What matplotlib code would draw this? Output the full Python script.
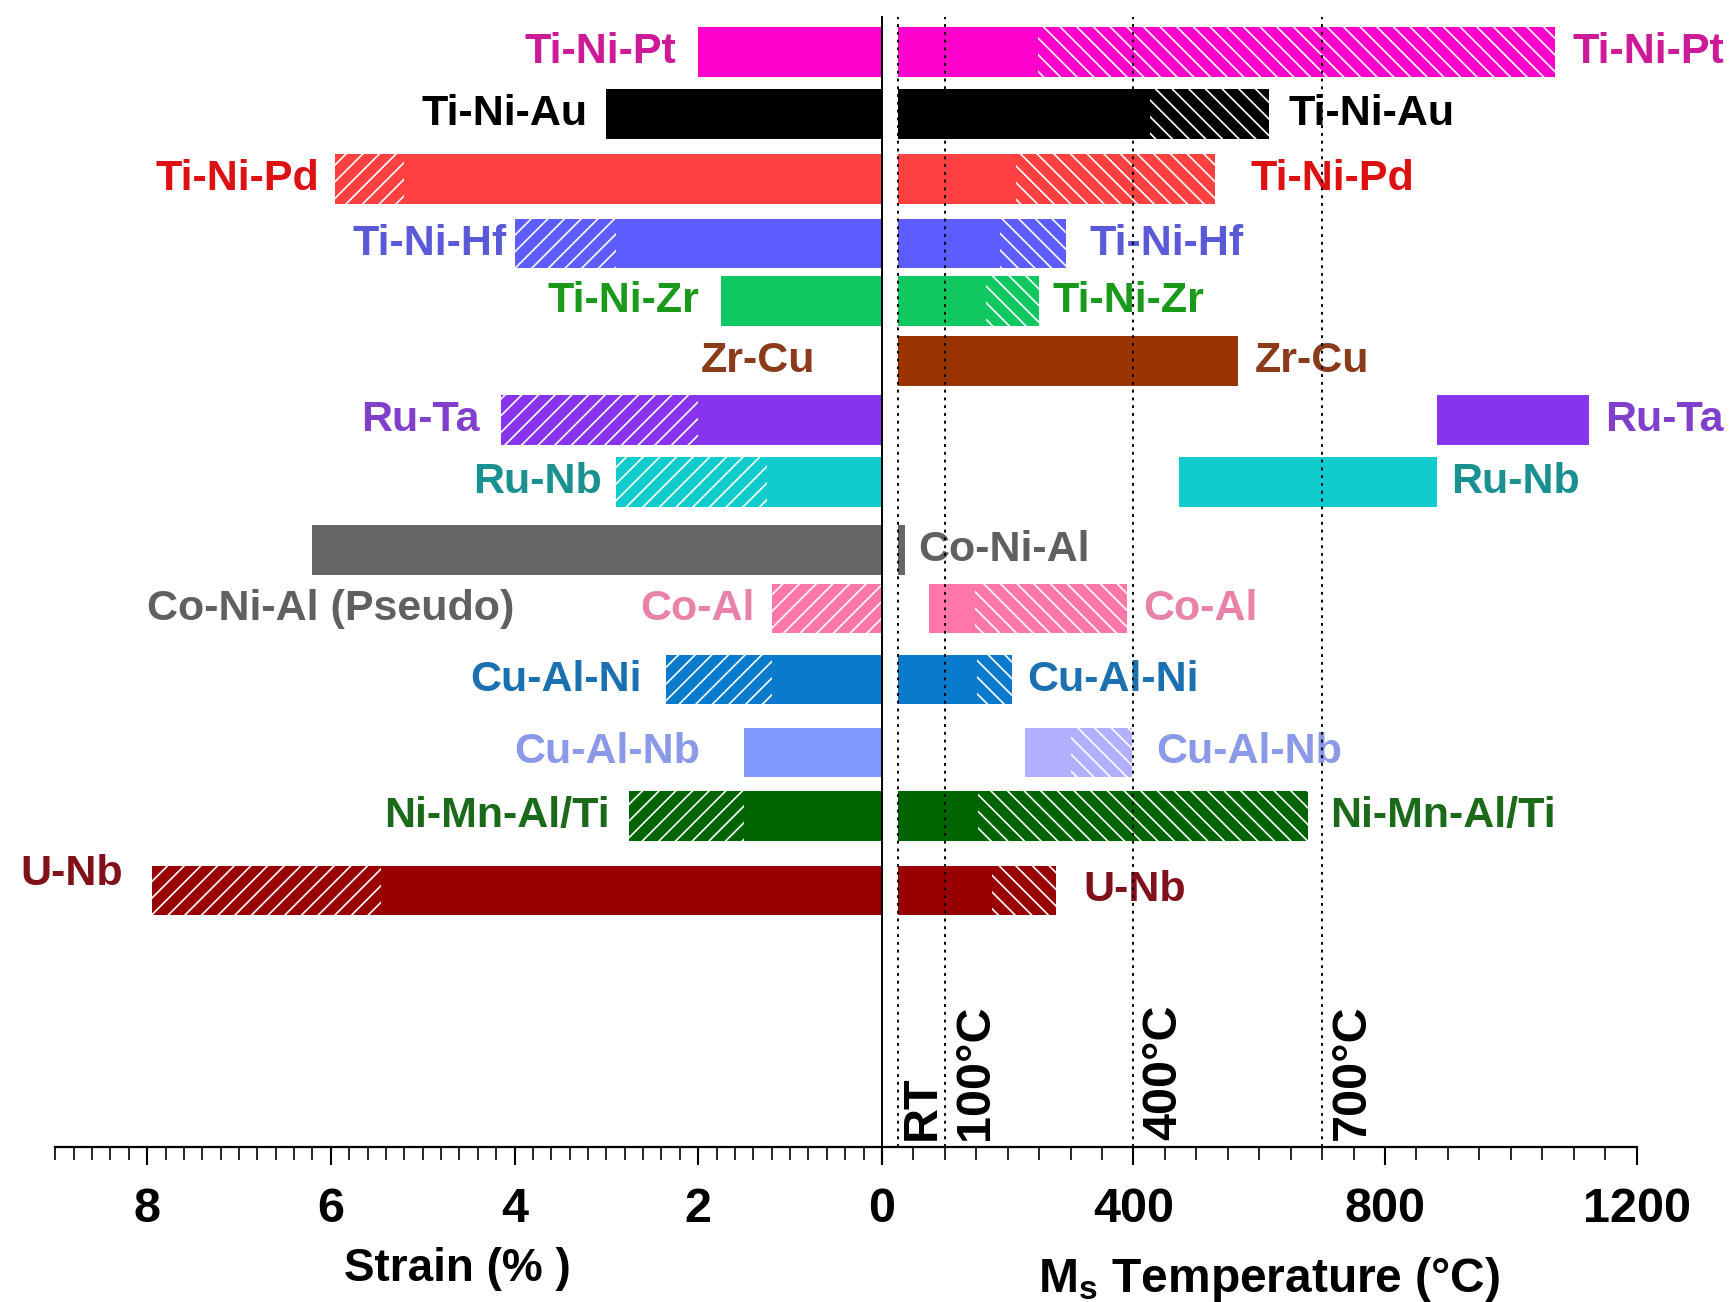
import matplotlib
matplotlib.use('Agg')
import matplotlib.pyplot as plt
from matplotlib.ticker import MultipleLocator

# --- alloy families, listed top to bottom
alloys = ['Ti-Ni-Pt', 'Ti-Ni-Au', 'Ti-Ni-Pd', 'Ti-Ni-Hf', 'Ti-Ni-Zr', 'Zr-Cu', 'Ru-Ta',
          'Ru-Nb', 'Co-Ni-Al', 'Co-Al', 'Cu-Al-Ni', 'Cu-Al-Nb', 'Ni-Mn-Al/Ti', 'U-Nb']

# --- recoverable strain (%): solid bar up to strain_lo, hatched on to strain_hi
strain_lo = [2.0, 3.0, 5.2, 2.9, 1.75, 0.0, 2.0, 1.25, 6.2, 0.0, 1.2, 1.5, 1.5, 5.45]
strain_hi = [2.0, 3.0, 5.95, 4.0, 1.75, 0.0, 4.15, 2.9, 6.2, 1.2, 2.35, 1.5, 2.75, 7.95]

# --- Ms temperature (C): bar from ms_start, solid up to ms_lo, hatched on to ms_hi
ms_start = [25, 25, 25, 25, 25, 25, 883, 473, 25, 75, 25, 227, 25, 25]
ms_lo = [248, 427, 214, 188, 166, 566, 1124, 883, 37, 148, 152, 301, 153, 175]
ms_hi = [1071, 615, 529, 292, 250, 566, 1124, 883, 37, 389, 207, 398, 677, 277]

# --- reference temperatures
ref_temps = [25, 100, 400, 700]
ref_labels = ['RT', '100°C', '400°C', '700°C']

# --- colours
bar_color = ['#ff00cc', '#000000', '#ff4040', '#5c5cff', '#10c860', '#993300', '#8833ee',
             '#10cccc', '#666666', '#ff77a8', '#0a7acc', '#7f99ff', '#006400', '#990000']
right_color = list(bar_color)
right_color[11] = '#b0b0ff'
text_color = ['#cc1a99', '#000000', '#dd1111', '#5a5ad8', '#1a9a1a', '#8b3a1a', '#8040cc',
              '#1a9090', '#606060', '#e882a8', '#1a70b0', '#8a9ae8', '#1a6a1a', '#80101a']

# --- layout: row centres and label gaps (points)
row_y = [0, 0.96, 1.97, 2.97, 3.86, 4.79, 5.71, 6.67, 7.72, 8.63, 9.73, 10.86, 11.85, 13.0]
left_gap = [16, 13.5, 12, 5.5, 16, 48, 15, 10, 12, 12, 17.5, 32, 14, 12]
right_gap = [12, 14, 26, 17, 9.5, 12, 12, 10, 9.5, 12, 11, 17, 16, 20]
bar_h = 0.77

plt.rcParams['font.family'] = 'Liberation Sans'
plt.rcParams['font.weight'] = 'bold'
plt.rcParams['mathtext.fontset'] = 'custom'
plt.rcParams['mathtext.rm'] = 'Liberation Sans:bold'
plt.rcParams['hatch.linewidth'] = 1.2

fs_bar = 31
fs_tick = 35
fs_axis = 33
fs_ref = 35

fig = plt.figure(figsize=(17.35, 13.02), dpi=100)
axL = fig.add_axes([50 / 1568, 0.1189, 747 / 1568, 0.8684])
axR = fig.add_axes([797 / 1568, 0.1189, 682 / 1568, 0.8684], sharey=axL)

for i, name in enumerate(alloys):
    y = row_y[i]
    # strain side
    if strain_hi[i] > 0:
        axL.barh(y, strain_hi[i], height=bar_h, color=bar_color[i], lw=0)
        if strain_hi[i] > strain_lo[i]:
            axL.barh(y, strain_hi[i] - strain_lo[i], left=strain_lo[i], height=bar_h,
                     facecolor='none', edgecolor='white', hatch='//', lw=0)
    # temperature side
    axR.barh(y, ms_hi[i] - ms_start[i], left=ms_start[i], height=bar_h, color=right_color[i], lw=0)
    if ms_hi[i] > ms_lo[i]:
        axR.barh(y, ms_hi[i] - ms_lo[i], left=ms_lo[i], height=bar_h,
                 facecolor='none', edgecolor='white', hatch='\\\\', lw=0)

    # labels
    if name == 'Co-Ni-Al':
        axL.text(8.0, row_y[9], 'Co-Ni-Al (Pseudo)', ha='left', va='center',
                 color=text_color[i], fontsize=fs_bar)
    elif name == 'U-Nb':
        axL.text(9.38, 12.74, name, ha='left', va='center', color=text_color[i], fontsize=fs_bar)
    else:
        axL.annotate(name, (strain_hi[i], y), xytext=(-left_gap[i], 0), textcoords='offset points',
                     ha='right', va='center', color=text_color[i], fontsize=fs_bar,
                     annotation_clip=False)
    axR.annotate(name, (ms_hi[i], y), xytext=(right_gap[i], 0), textcoords='offset points',
                 ha='left', va='center', color=text_color[i], fontsize=fs_bar,
                 annotation_clip=False)

axL.set_ylim(16.98, -0.55)

# reference temperature lines
for t, lab in zip(ref_temps, ref_labels):
    axR.axvline(t, color='k', lw=1.4, ls=(0, (1.5, 2.5)), zorder=5)
    dx = 18 if lab == 'RT' else 22
    axR.annotate(lab, (t, 16.98), xytext=(dx, 5), textcoords='offset points',
                 rotation=90, ha='center', va='bottom', fontsize=fs_ref, color='k')

# axes styling
axL.set_xlim(9, 0)
axL.set_xticks([0, 2, 4, 6, 8], ['0', '2', '4', '6', '8'])
axL.xaxis.set_minor_locator(MultipleLocator(0.2))
axR.set_xlim(0, 1200)
axR.set_xticks([0, 400, 800, 1200], ['', '400', '800', '1200'])
axR.xaxis.set_minor_locator(MultipleLocator(50))

for ax in (axL, axR):
    ax.patch.set_visible(False)
    ax.spines['top'].set_visible(False)
    ax.spines['right'].set_visible(False)
    ax.spines['bottom'].set_linewidth(1.6)
    ax.tick_params(axis='y', left=False, labelleft=False)
    ax.tick_params(axis='x', which='major', direction='out', length=13, width=1.5,
                   pad=16, labelsize=fs_tick)
    ax.tick_params(axis='x', which='minor', direction='out', length=9, width=1.2)
axL.spines['left'].set_visible(False)
axR.spines['left'].set_linewidth(1.4)

fig.text(413 / 1568, 0.0161, 'Strain (% )', ha='center', va='baseline', fontsize=fs_axis)
fig.text(1147 / 1568, 0.0076, r'M$_\mathrm{s}$ Temperature (°C)', ha='center', va='baseline',
         fontsize=34.5)

fig.savefig('out.png', dpi=100)
